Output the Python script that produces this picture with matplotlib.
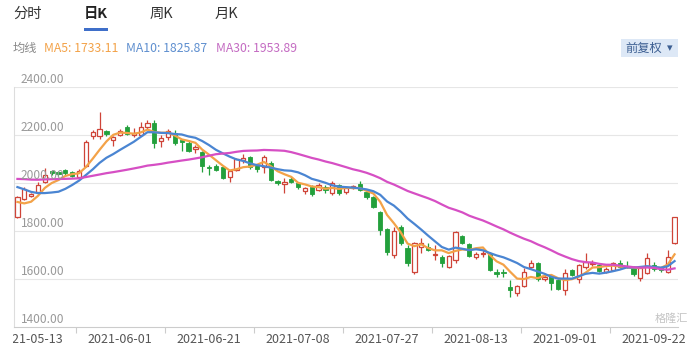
import numpy as np
import pandas as pd
import matplotlib
matplotlib.use("Agg")
import matplotlib.pyplot as plt
from matplotlib.patches import Rectangle
from matplotlib.transforms import Bbox, TransformedBbox

plt.rcParams['font.family'] = ['Noto Sans CJK SC', 'DejaVu Sans']

# daily candles
opens = [1858, 1935, 1945, 1962, 2005, 2048, 2045, 2055, 2045, 2027,
         2070, 2195, 2195, 2215, 2178, 2200, 2232, 2198, 2202, 2235,
         2250, 2175, 2192, 2210, 2180, 2168, 2140, 2130, 2068, 2072,
         2068, 2025, 2055, 2095, 2108, 2075, 2068, 2085, 2008, 1995,
         2018, 2000, 1965, 1985, 1972, 1985, 1960, 1990, 1963, 1980,
         1995, 1962, 1942, 1880, 1808, 1702, 1815, 1730, 1630, 1735,
         1735, 1700, 1692, 1650, 1680, 1778, 1745, 1692, 1705, 1708,
         1630, 1628, 1565, 1540, 1572, 1652, 1666, 1598, 1612, 1594,
         1555, 1637, 1598, 1650, 1662, 1658, 1630, 1638, 1668, 1655,
         1648, 1605, 1625, 1660, 1645, 1630, 1750]
highs = [1945, 1985, 1960, 2004, 2062, 2055, 2052, 2060, 2050, 2058,
         2180, 2222, 2295, 2222, 2195, 2225, 2242, 2230, 2255, 2262,
         2262, 2200, 2225, 2220, 2185, 2178, 2158, 2135, 2075, 2078,
         2070, 2055, 2105, 2120, 2112, 2080, 2115, 2090, 2012, 2020,
         2025, 2005, 1985, 1990, 2000, 1990, 2008, 1995, 1985, 1992,
         2008, 1965, 1945, 1885, 1812, 1815, 1825, 1740, 1755, 1770,
         1750, 1742, 1698, 1700, 1800, 1782, 1750, 1712, 1720, 1712,
         1640, 1640, 1595, 1575, 1645, 1680, 1670, 1615, 1620, 1600,
         1640, 1642, 1662, 1710, 1680, 1665, 1650, 1670, 1678, 1675,
         1655, 1650, 1710, 1670, 1652, 1720, 1860]
lows = [1855, 1930, 1940, 1958, 2000, 2035, 2030, 2035, 2025, 2015,
        2065, 2185, 2185, 2195, 2155, 2195, 2198, 2190, 2195, 2225,
        2145, 2148, 2180, 2160, 2135, 2130, 2125, 2045, 2035, 2048,
        2018, 2005, 2050, 2085, 2058, 2045, 2042, 2008, 1990, 1960,
        2000, 1975, 1955, 1945, 1965, 1960, 1952, 1950, 1955, 1975,
        1968, 1935, 1895, 1783, 1700, 1688, 1740, 1655, 1622, 1708,
        1715, 1680, 1650, 1645, 1665, 1745, 1690, 1685, 1690, 1632,
        1610, 1610, 1525, 1530, 1565, 1645, 1592, 1590, 1555, 1555,
        1535, 1612, 1585, 1640, 1655, 1628, 1625, 1632, 1645, 1645,
        1612, 1590, 1620, 1635, 1630, 1625, 1745]
closes = [1940, 1975, 1955, 1992, 2035, 2042, 2038, 2040, 2030, 2052,
          2172, 2212, 2225, 2205, 2190, 2218, 2205, 2208, 2232, 2250,
          2168, 2188, 2215, 2168, 2170, 2135, 2150, 2072, 2062, 2055,
          2022, 2050, 2098, 2105, 2068, 2060, 2108, 2012, 1998, 2005,
          2005, 1985, 1978, 1955, 1990, 1972, 2002, 1958, 1978, 1986,
          1972, 1943, 1902, 1805, 1712, 1800, 1752, 1668, 1752, 1750,
          1722, 1705, 1668, 1695, 1795, 1752, 1695, 1705, 1710, 1638,
          1620, 1625, 1555, 1570, 1628, 1665, 1598, 1608, 1585, 1560,
          1625, 1618, 1658, 1670, 1668, 1633, 1642, 1665, 1652, 1650,
          1620, 1645, 1688, 1640, 1638, 1690, 1858]
# closes before the visible window (needed for the moving averages)
prior_closes = [2000, 2015, 2005, 1995, 2020, 2010, 2025, 2000, 2015, 2015,
                2050, 2065, 2040, 2060, 2070, 2055, 2045, 2065, 2060, 2070,
                2070, 2060, 2042, 2035, 2018, 2005, 1920, 1870, 1870]

date_labels = ["2021-05-13", "2021-06-01", "2021-06-21", "2021-07-08",
               "2021-07-27", "2021-08-13", "2021-09-01", "2021-09-22"]
label_idx = [2, 15, 28, 41, 54, 67, 80, 93]
tick_idx = [9, 22, 35, 48, 61, 74, 87]
y_ticks = [1400, 1600, 1800, 2000, 2200, 2400]

UP = '#cf4438'
DOWN = '#23a03c'
C5, C10, C30 = '#f3a248', '#4a85d2', '#d64fc4'

W, H = 692, 353
fig = plt.figure(figsize=(W / 100, H / 100), dpi=100)


def fx(x):
    return x / W


def fy(y):
    return 1 - y / H


ax = fig.add_axes([fx(14), fy(327), 664 / W, 240 / H])
n = len(closes)
x = np.arange(n)
o = np.array(opens)
c = np.array(closes)
hi = np.array(highs)
lo = np.array(lows)
up = c >= o

# moving averages
allc = pd.Series(prior_closes + closes)
ma5 = allc.rolling(5).mean().values[-n:]
ma10 = allc.rolling(10).mean().values[-n:]
ma30 = allc.rolling(30).mean().values[-n:]

# wicks
ax.vlines(x[up], lo[up], hi[up], color=UP, lw=0.9, zorder=2)
ax.vlines(x[~up], lo[~up], hi[~up], color=DOWN, lw=0.9, zorder=2)
# bodies
bw = 0.62
body_lo = np.minimum(o, c)
body_h = np.maximum(np.abs(c - o), 3)
ax.bar(x[up], body_h[up], bottom=body_lo[up], width=bw, facecolor='white',
       edgecolor=UP, linewidth=0.9, zorder=3)
ax.bar(x[~up], body_h[~up], bottom=body_lo[~up], width=bw, facecolor=DOWN,
       edgecolor=DOWN, linewidth=0.6, zorder=3)

ax.plot(x, ma5, color=C5, lw=1.6, zorder=4)
ax.plot(x, ma10, color=C10, lw=1.6, zorder=4)
ax.plot(x, ma30, color=C30, lw=1.6, zorder=4)

ax.set_xlim(-0.5, n - 0.5)
ax.set_ylim(1400, 2400)
ax.set_yticks(y_ticks[1:])
ax.yaxis.grid(True, color='#e6e6e6', lw=0.8)
ax.set_axisbelow(True)
ax.tick_params(axis='y', left=False, labelleft=False)
for s in ['top', 'right']:
    ax.spines[s].set_visible(False)
ax.spines['left'].set_color('#dddddd')
ax.spines['bottom'].set_color('#cccccc')
ax.set_xticks(np.array(tick_idx) - 0.5)
ax.tick_params(axis='x', length=4, color='#cccccc', labelbottom=False)

for v in y_ticks:
    ax.text(0.5, v + 3, f"{v:.2f}", color='#999999', fontsize=8.6,
            ha='left', va='bottom', zorder=5)

clip = TransformedBbox(Bbox([[fx(13), 0], [1, 1]]), fig.transFigure)
for i, lab in zip(label_idx, date_labels):
    t = ax.text(i, 1400 - 12.3 / 0.24, lab, color='#555555', fontsize=9,
                ha='center', va='center')
    t.set_clip_box(clip)
    t.set_clip_on(True)

# tabs
fig.text(fx(13), fy(14), "分时", fontsize=10.3, color='#333333', va='center')
fig.text(fx(84), fy(14), "日K", fontsize=10.3, color='#222222', va='center',
         fontweight='bold')
fig.text(fx(150), fy(14), "周K", fontsize=10.3, color='#333333', va='center')
fig.text(fx(215), fy(14), "月K", fontsize=10.3, color='#333333', va='center')
fig.add_artist(Rectangle((fx(84), fy(31)), 24 / W, 3 / H, transform=fig.transFigure,
                         color='#3f6fc9', lw=0))

# MA legend line
fig.text(fx(13), fy(48), "均线", fontsize=8.8, color='#888888', va='center')
fig.text(fx(44), fy(48), "MA5: 1733.11", fontsize=8.8, color=C5, va='center')
fig.text(fx(126), fy(48), "MA10: 1825.87", fontsize=8.8, color='#5f8fcf', va='center')
fig.text(fx(216), fy(48), "MA30: 1953.89", fontsize=8.8, color='#c46bc2', va='center')

# adjust-type button
fig.add_artist(Rectangle((fx(621), fy(57)), 57 / W, 18 / H, transform=fig.transFigure,
                         color='#dde8f6', lw=0))
fig.text(fx(625), fy(48), "前复权", fontsize=8.8, color='#3d5f92', va='center')
fig.text(fx(667), fy(48), "▾", fontsize=8, color='#3d5f92', va='center',
         family=['DejaVu Sans'])

# watermark
fig.text(fx(688), fy(319), "格隆汇", fontsize=8, color='#c4c4c4', va='center',
         ha='right')

fig.savefig("out.png", dpi=100)
